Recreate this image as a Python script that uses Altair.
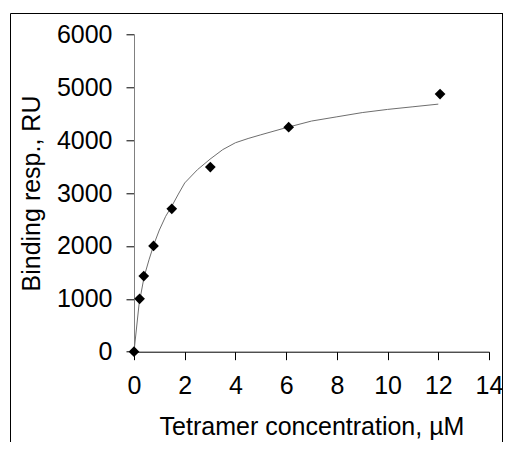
import altair as alt
import pandas as pd

# Measured data points
conc = [0, 0.22, 0.385, 0.77, 1.49, 3.01, 6.1, 12.07]
resp = [0, 1000, 1430, 2000, 2700, 3490, 4245, 4870]

# Fitted curve
curve_x = [0, 0.2, 0.4, 0.6, 0.8, 1.0, 1.25, 1.5, 1.75, 2, 2.5, 3, 3.5, 4, 4.5, 5, 6, 7, 8, 9, 10, 11, 12]
curve_y = [0, 900, 1420, 1750, 2050, 2300, 2560, 2760, 2980, 3190, 3440, 3640, 3820, 3950, 4030, 4100, 4235, 4360, 4440, 4520, 4580, 4630, 4680]

x_ticks = [0, 2, 4, 6, 8, 10, 12, 14]
y_ticks = [0, 1000, 2000, 3000, 4000, 5000, 6000]

pts = pd.DataFrame({"x": conc, "y": resp})
crv = pd.DataFrame({"x": curve_x, "y": curve_y})

FONT = "Liberation Sans"

xscale = alt.Scale(domain=[0, 14], nice=False, zero=True)
yscale = alt.Scale(domain=[0, 6000], nice=False)

xaxis = alt.Axis(values=x_ticks, title="Tetramer concentration, µM", grid=False, format="d",
                 domainColor="#000000", tickColor="#000000", tickSize=8,
                 labelFontSize=25, titleFontSize=25, labelFont=FONT, titleFont=FONT,
                 labelColor="#000000", titleColor="#000000", titleFontWeight="normal",
                 labelPadding=14, titlePadding=16, labelFlush=False, labelOverlap=False)
yaxis = alt.Axis(values=y_ticks, title="Binding resp., RU", grid=False, format="d",
                 domainColor="#808080", tickColor="#000000", tickSize=8,
                 labelFontSize=25, titleFontSize=25, labelFont=FONT, titleFont=FONT,
                 labelColor="#000000", titleColor="#000000", titleFontWeight="normal",
                 labelPadding=14, titlePadding=12, labelFlush=False, labelOverlap=False)

line = alt.Chart(crv).mark_line(color="#6e6e6e", strokeWidth=1).encode(
    x=alt.X("x:Q", scale=xscale, axis=xaxis),
    y=alt.Y("y:Q", scale=yscale, axis=yaxis),
)

points = alt.Chart(pts).mark_point(shape="diamond", filled=True, color="#000000",
                                   size=115, opacity=1).encode(
    x=alt.X("x:Q", scale=xscale, axis=xaxis),
    y=alt.Y("y:Q", scale=yscale, axis=yaxis),
)

one = alt.Data(values=[{"a": 1}])
frame_top = alt.Chart(one).mark_rule(color="#000000", strokeWidth=1, clip=False).encode(
    x=alt.value(-123.5), x2=alt.value(369), y=alt.value(-20.8), y2=alt.value(-20.8)
)
frame_left = alt.Chart(one).mark_rule(color="#000000", strokeWidth=1, clip=False).encode(
    x=alt.value(-123.5), x2=alt.value(-123.5), y=alt.value(-20.8), y2=alt.value(420)
)
frame_right = alt.Chart(one).mark_rule(color="#000000", strokeWidth=1, clip=False).encode(
    x=alt.value(368.5), x2=alt.value(368.5), y=alt.value(-20.8), y2=alt.value(420)
)

chart = alt.layer(frame_top, frame_left, frame_right, line, points).properties(
    width=355, height=317.4,
    autosize=alt.AutoSizeParams(type="none"),
    padding={"left": 126, "top": 26.3, "right": 14, "bottom": 90.3},
).configure_view(stroke=None)

chart.save("out.html", embed_options={"renderer": "svg", "actions": False})
